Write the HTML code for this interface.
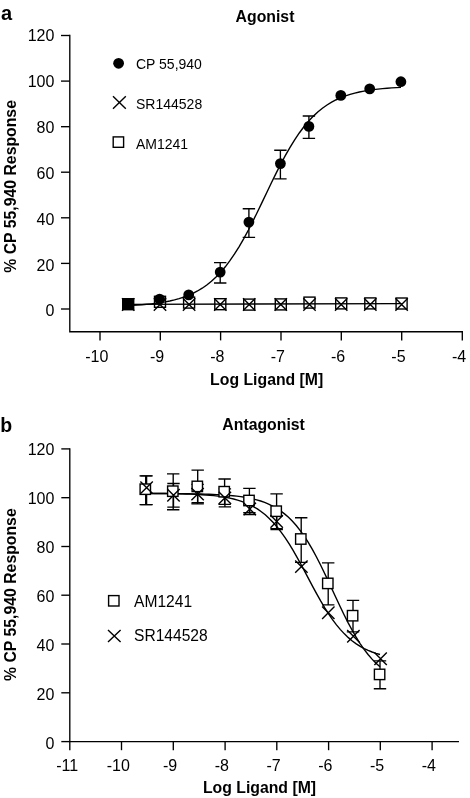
<!DOCTYPE html>
<html><head><meta charset="utf-8"><style>
html,body{margin:0;padding:0;background:#fff;}
svg{display:block;filter:grayscale(1);}
text{font-family:"Liberation Sans",sans-serif;fill:#000;}
.b{font-weight:bold;}
.ax{fill:none;stroke:#000;stroke-width:1.35;stroke-linecap:square;}
.tk{fill:none;stroke:#000;stroke-width:1.35;}
.cv{fill:none;stroke:#000;stroke-width:1.4;}
.eb{fill:none;stroke:#000;stroke-width:1.35;}
.mk{fill:none;stroke:#000;stroke-width:1.4;}
.mkf{fill:#fff;stroke:#000;stroke-width:1.4;}
</style></head><body>
<svg width="470" height="798" viewBox="0 0 470 798">
<text x="1" y="19.8" class="b" font-size="20">a</text>
<text transform="translate(265,22.2) scale(1,1)" class="b" font-size="15.8" text-anchor="middle">Agonist</text>
<path d="M69.8,35.5 V331.7 H462.3" class="ax"/>
<path d="M61,35.5 H69.8" class="tk"/>
<text x="54.4" y="41.3" class="r" font-size="16" text-anchor="end">120</text>
<path d="M61,81.1 H69.8" class="tk"/>
<text x="54.4" y="86.9" class="r" font-size="16" text-anchor="end">100</text>
<path d="M61,126.7 H69.8" class="tk"/>
<text x="54.4" y="133.4" class="r" font-size="16" text-anchor="end">80</text>
<path d="M61,172.2 H69.8" class="tk"/>
<text x="54.4" y="178.9" class="r" font-size="16" text-anchor="end">60</text>
<path d="M61,217.8 H69.8" class="tk"/>
<text x="54.4" y="224.7" class="r" font-size="16" text-anchor="end">40</text>
<path d="M61,263.4 H69.8" class="tk"/>
<text x="54.4" y="270.5" class="r" font-size="16" text-anchor="end">20</text>
<path d="M61,309.0 H69.8" class="tk"/>
<text x="54.4" y="316.0" class="r" font-size="16" text-anchor="end">0</text>
<path d="M100.0,331.7 V340.4" class="tk"/>
<text x="108.4" y="361.9" class="r" font-size="16" text-anchor="end">-10</text>
<path d="M160.3,331.7 V340.4" class="tk"/>
<text x="164.2" y="361.9" class="r" font-size="16" text-anchor="end">-9</text>
<path d="M220.6,331.7 V340.4" class="tk"/>
<text x="224.5" y="361.9" class="r" font-size="16" text-anchor="end">-8</text>
<path d="M281.0,331.7 V340.4" class="tk"/>
<text x="284.9" y="361.9" class="r" font-size="16" text-anchor="end">-7</text>
<path d="M341.3,331.7 V340.4" class="tk"/>
<text x="345.2" y="361.9" class="r" font-size="16" text-anchor="end">-6</text>
<path d="M401.7,331.7 V340.4" class="tk"/>
<text x="405.6" y="361.9" class="r" font-size="16" text-anchor="end">-5</text>
<path d="M462.3,331.7 V340.4" class="tk"/>
<text x="466.2" y="361.9" class="r" font-size="16" text-anchor="end">-4</text>
<text transform="translate(266.7,384.9) scale(1,1)" class="b" font-size="15.8" text-anchor="middle">Log Ligand [M]</text>
<text transform="translate(15.8,186.4) rotate(-90)" class="b" font-size="15.8" text-anchor="middle">% CP 55,940 Response</text>
<circle cx="118.6" cy="63.3" r="5.4" fill="#000"/>
<text x="136" y="69" class="r" font-size="14">CP 55,940</text>
<path d="M113,96.3 L125.8,108.8 M125.8,96.3 L113,108.8" class="mk"/>
<text x="136" y="108.7" class="r" font-size="14">SR144528</text>
<rect x="113.2" y="136.9" width="10.4" height="10.4" class="mk"/>
<text x="136" y="148.5" class="r" font-size="14">AM1241</text>
<path d="M128.2,304.4 L401.6,303.6" class="cv"/>
<rect x="122.7" y="298.7" width="11" height="11" class="mk"/>
<path d="M122.0,298.3 L134.4,310.7 M134.4,298.3 L122.0,310.7" class="mk"/>
<rect x="154.5" y="296.3" width="11" height="11" class="mk"/>
<path d="M153.8,298.3 L166.2,310.7 M166.2,298.3 L153.8,310.7" class="mk"/>
<rect x="183.6" y="297.1" width="11" height="11" class="mk"/>
<path d="M182.9,298.3 L195.3,310.7 M195.3,298.3 L182.9,310.7" class="mk"/>
<rect x="214.8" y="298.7" width="11" height="11" class="mk"/>
<path d="M214.1,298.3 L226.5,310.7 M226.5,298.3 L214.1,310.7" class="mk"/>
<rect x="243.7" y="299.1" width="11" height="11" class="mk"/>
<path d="M243.0,298.3 L255.4,310.7 M255.4,298.3 L243.0,310.7" class="mk"/>
<rect x="275.3" y="298.9" width="11" height="11" class="mk"/>
<path d="M274.6,298.3 L287.0,310.7 M287.0,298.3 L274.6,310.7" class="mk"/>
<rect x="304.0" y="297.1" width="11" height="11" class="mk"/>
<path d="M303.3,298.3 L315.7,310.7 M315.7,298.3 L303.3,310.7" class="mk"/>
<rect x="335.7" y="297.9" width="11" height="11" class="mk"/>
<path d="M335.0,298.3 L347.4,310.7 M347.4,298.3 L335.0,310.7" class="mk"/>
<rect x="364.8" y="297.9" width="11" height="11" class="mk"/>
<path d="M364.1,298.3 L376.5,310.7 M376.5,298.3 L364.1,310.7" class="mk"/>
<rect x="396.1" y="298.0" width="11" height="11" class="mk"/>
<path d="M395.4,298.3 L407.8,310.7 M407.8,298.3 L395.4,310.7" class="mk"/>
<path d="M128.20,305.51 L132.82,305.28 L137.45,305.01 L142.07,304.68 L146.69,304.30 L151.32,303.84 L155.94,303.30 L160.57,302.65 L165.19,301.89 L169.81,300.98 L174.44,299.91 L179.06,298.65 L183.68,297.17 L188.31,295.42 L192.93,293.38 L197.56,290.99 L202.18,288.22 L206.80,285.01 L211.43,281.30 L216.05,277.06 L220.67,272.24 L225.30,266.80 L229.92,260.71 L234.55,253.96 L239.17,246.56 L243.79,238.55 L248.42,229.98 L253.04,220.94 L257.66,211.54 L262.29,201.91 L266.91,192.19 L271.54,182.54 L276.16,173.10 L280.78,164.00 L285.41,155.37 L290.03,147.28 L294.65,139.80 L299.28,132.97 L303.90,126.79 L308.53,121.27 L313.15,116.37 L317.77,112.06 L322.40,108.29 L327.02,105.02 L331.64,102.19 L336.27,99.75 L340.89,97.67 L345.52,95.89 L350.14,94.37 L354.76,93.09 L359.39,91.99 L364.01,91.07 L368.63,90.29 L373.26,89.63 L377.88,89.07 L382.51,88.61 L387.13,88.21 L391.75,87.88 L396.38,87.60 L401.00,87.37" class="cv"/>
<path d="M220.2,262.6 V283.0 M214.0,262.6 H226.4 M214.0,283.0 H226.4" class="eb"/>
<path d="M248.9,208.7 V237.4 M242.7,208.7 H255.1 M242.7,237.4 H255.1" class="eb"/>
<path d="M280.4,150.2 V178.9 M274.2,150.2 H286.6 M274.2,178.9 H286.6" class="eb"/>
<path d="M308.9,116.0 V138.3 M302.7,116.0 H315.1 M302.7,138.3 H315.1" class="eb"/>
<rect x="122.6" y="298.3" width="11.2" height="11.2" fill="#000"/>
<circle cx="159.6" cy="299.1" r="5.4" fill="#000"/>
<circle cx="188.7" cy="294.9" r="5.4" fill="#000"/>
<circle cx="220.2" cy="272.1" r="5.4" fill="#000"/>
<circle cx="248.9" cy="222.1" r="5.4" fill="#000"/>
<circle cx="280.4" cy="163.6" r="5.4" fill="#000"/>
<circle cx="308.9" cy="126.4" r="5.4" fill="#000"/>
<circle cx="340.8" cy="95.4" r="5.4" fill="#000"/>
<circle cx="369.7" cy="88.9" r="5.4" fill="#000"/>
<circle cx="400.9" cy="81.7" r="5.4" fill="#000"/>
<text x="0.2" y="431.9" class="b" font-size="19.5">b</text>
<text transform="translate(263.6,429.9) scale(1,1)" class="b" font-size="15.8" text-anchor="middle">Antagonist</text>
<path d="M69.8,448.9 V741.6 H458.3" class="ax"/>
<path d="M61.3,448.9 H69.8" class="tk"/>
<text x="54.4" y="454.8" class="r" font-size="16" text-anchor="end">120</text>
<path d="M61.3,497.7 H69.8" class="tk"/>
<text x="54.4" y="503.8" class="r" font-size="16" text-anchor="end">100</text>
<path d="M61.3,546.5 H69.8" class="tk"/>
<text x="54.4" y="552.8" class="r" font-size="16" text-anchor="end">80</text>
<path d="M61.3,595.2 H69.8" class="tk"/>
<text x="54.4" y="602.3" class="r" font-size="16" text-anchor="end">60</text>
<path d="M61.3,644.0 H69.8" class="tk"/>
<text x="54.4" y="650.7" class="r" font-size="16" text-anchor="end">40</text>
<path d="M61.3,692.8 H69.8" class="tk"/>
<text x="54.4" y="699.7" class="r" font-size="16" text-anchor="end">20</text>
<path d="M61.3,741.6 H69.8" class="tk"/>
<text x="54.4" y="748.6" class="r" font-size="16" text-anchor="end">0</text>
<path d="M69.8,741.6 V750.2" class="tk"/>
<text x="78.2" y="770.7" class="r" font-size="16" text-anchor="end">-11</text>
<path d="M121.5,741.6 V750.2" class="tk"/>
<text x="129.9" y="770.7" class="r" font-size="16" text-anchor="end">-10</text>
<path d="M173.3,741.6 V750.2" class="tk"/>
<text x="177.2" y="770.7" class="r" font-size="16" text-anchor="end">-9</text>
<path d="M225.1,741.6 V750.2" class="tk"/>
<text x="229.0" y="770.7" class="r" font-size="16" text-anchor="end">-8</text>
<path d="M276.8,741.6 V750.2" class="tk"/>
<text x="280.7" y="770.7" class="r" font-size="16" text-anchor="end">-7</text>
<path d="M328.6,741.6 V750.2" class="tk"/>
<text x="332.5" y="770.7" class="r" font-size="16" text-anchor="end">-6</text>
<path d="M380.3,741.6 V750.2" class="tk"/>
<text x="384.2" y="770.7" class="r" font-size="16" text-anchor="end">-5</text>
<path d="M432.1,741.6 V750.2" class="tk"/>
<text x="436.0" y="770.7" class="r" font-size="16" text-anchor="end">-4</text>
<text transform="translate(259.5,792.7) scale(1,1)" class="b" font-size="15.8" text-anchor="middle">Log Ligand [M]</text>
<text transform="translate(16.1,594.65) rotate(-90)" class="b" font-size="15.8" text-anchor="middle">% CP 55,940 Response</text>
<rect x="108.6" y="595.6" width="10.4" height="10.4" class="mk"/>
<text x="134" y="606.8" class="r" font-size="15.6">AM1241</text>
<path d="M108,629.9 L120.6,642 M120.6,629.9 L108,642" class="mk"/>
<text x="134" y="641.4" class="r" font-size="15.6">SR144528</text>
<path d="M145.30,493.51 L149.28,493.51 L153.26,493.53 L157.23,493.54 L161.21,493.55 L165.19,493.57 L169.17,493.59 L173.15,493.62 L177.12,493.65 L181.10,493.69 L185.08,493.73 L189.06,493.78 L193.04,493.85 L197.01,493.92 L200.99,494.01 L204.97,494.12 L208.95,494.25 L212.93,494.40 L216.90,494.58 L220.88,494.79 L224.86,495.05 L228.84,495.36 L232.82,495.72 L236.79,496.15 L240.77,496.66 L244.75,497.27 L248.73,497.99 L252.71,498.84 L256.68,499.85 L260.66,501.04 L264.64,502.44 L268.62,504.08 L272.59,506.00 L276.57,508.24 L280.55,510.85 L284.53,513.86 L288.51,517.32 L292.48,521.28 L296.46,525.77 L300.44,530.82 L304.42,536.45 L308.40,542.67 L312.37,549.45 L316.35,556.76 L320.33,564.53 L324.31,572.69 L328.29,581.11 L332.26,589.68 L336.24,598.27 L340.22,606.74 L344.20,614.97 L348.18,622.85 L352.15,630.28 L356.13,637.19 L360.11,643.54 L364.09,649.32 L368.07,654.51 L372.04,659.13 L376.02,663.22 L380.00,666.80" class="cv"/>
<path d="M146.60,493.39 L150.56,493.41 L154.51,493.44 L158.47,493.47 L162.42,493.51 L166.38,493.56 L170.34,493.61 L174.29,493.68 L178.25,493.76 L182.20,493.85 L186.16,493.97 L190.12,494.10 L194.07,494.26 L198.03,494.45 L201.98,494.68 L205.94,494.96 L209.89,495.28 L213.85,495.67 L217.81,496.13 L221.76,496.67 L225.72,497.32 L229.67,498.09 L233.63,499.00 L237.59,500.07 L241.54,501.34 L245.50,502.82 L249.45,504.57 L253.41,506.60 L257.37,508.96 L261.32,511.69 L265.28,514.82 L269.23,518.40 L273.19,522.46 L277.15,527.01 L281.10,532.08 L285.06,537.65 L289.01,543.71 L292.97,550.22 L296.93,557.10 L300.88,564.28 L304.84,571.66 L308.79,579.13 L312.75,586.55 L316.71,593.83 L320.66,600.85 L324.62,607.53 L328.57,613.78 L332.53,619.56 L336.48,624.84 L340.44,629.61 L344.40,633.87 L348.35,637.64 L352.31,640.96 L356.26,643.86 L360.22,646.36 L364.18,648.53 L368.13,650.39 L372.09,651.98 L376.04,653.33 L380.00,654.48" class="cv"/>
<path d="M145.7,475.9 V504.6 M139.5,475.9 H151.9 M139.5,504.6 H151.9" class="eb"/>
<path d="M173.2,473.9 V509.7 M167.0,473.9 H179.4 M167.0,509.7 H179.4" class="eb"/>
<path d="M197.7,470.1 V502.7 M191.5,470.1 H203.9 M191.5,502.7 H203.9" class="eb"/>
<path d="M224.6,479 V504.4 M218.4,479 H230.8 M218.4,504.4 H230.8" class="eb"/>
<path d="M249.4,488.3 V512.7 M243.2,488.3 H255.6 M243.2,512.7 H255.6" class="eb"/>
<path d="M276.6,493.8 V528.6 M270.4,493.8 H282.8 M270.4,528.6 H282.8" class="eb"/>
<path d="M301.2,517.7 V562.4 M295.0,517.7 H307.4 M295.0,562.4 H307.4" class="eb"/>
<path d="M328.2,562.8 V604.9 M322.0,562.8 H334.4 M322.0,604.9 H334.4" class="eb"/>
<path d="M353.0,600.4 V631.9 M346.8,600.4 H359.2 M346.8,631.9 H359.2" class="eb"/>
<path d="M380.0,660.8 V688.7 M373.8,660.8 H386.2 M373.8,688.7 H386.2" class="eb"/>
<path d="M146.6,475.9 V504.6 M140.4,475.9 H152.8 M140.4,504.6 H152.8" class="eb"/>
<path d="M173.5,483.5 V507.1 M167.3,483.5 H179.7 M167.3,507.1 H179.7" class="eb"/>
<path d="M197.6,484.3 V503.9 M191.4,484.3 H203.8 M191.4,503.9 H203.8" class="eb"/>
<path d="M224.9,488.9 V506.9 M218.7,488.9 H231.1 M218.7,506.9 H231.1" class="eb"/>
<path d="M249.8,503.4 V514.6 M243.6,503.4 H256.0 M243.6,514.6 H256.0" class="eb"/>
<path d="M276.7,515.7 V529.5 M270.5,515.7 H282.9 M270.5,529.5 H282.9" class="eb"/>
<rect x="140.1" y="484.0" width="10.4" height="10.4" class="mkf"/>
<rect x="167.6" y="486.0" width="10.4" height="10.4" class="mkf"/>
<rect x="192.1" y="481.2" width="10.4" height="10.4" class="mkf"/>
<rect x="219.0" y="486.5" width="10.4" height="10.4" class="mkf"/>
<rect x="243.8" y="495.3" width="10.4" height="10.4" class="mkf"/>
<rect x="271.0" y="506.0" width="10.4" height="10.4" class="mkf"/>
<rect x="295.6" y="533.8" width="10.4" height="10.4" class="mkf"/>
<rect x="322.6" y="578.2" width="10.4" height="10.4" class="mkf"/>
<rect x="347.4" y="610.5" width="10.4" height="10.4" class="mkf"/>
<rect x="374.4" y="669.2" width="10.4" height="10.4" class="mkf"/>
<path d="M140.4,481.4 L152.8,493.8 M152.8,481.4 L140.4,493.8" class="mk"/>
<path d="M167.3,489.1 L179.7,501.5 M179.7,489.1 L167.3,501.5" class="mk"/>
<path d="M191.4,487.9 L203.8,500.3 M203.8,487.9 L191.4,500.3" class="mk"/>
<path d="M218.7,491.7 L231.1,504.1 M231.1,491.7 L218.7,504.1" class="mk"/>
<path d="M243.6,502.8 L256.0,515.2 M256.0,502.8 L243.6,515.2" class="mk"/>
<path d="M270.5,515.3 L282.9,527.7 M282.9,515.3 L270.5,527.7" class="mk"/>
<path d="M295.2,560.4 L307.6,572.8 M307.6,560.4 L295.2,572.8" class="mk"/>
<path d="M322.1,606.6 L334.5,619.0 M334.5,606.6 L322.1,619.0" class="mk"/>
<path d="M347.2,630.1 L359.6,642.5 M359.6,630.1 L347.2,642.5" class="mk"/>
<path d="M374.4,652.5 L386.8,664.9 M386.8,652.5 L374.4,664.9" class="mk"/>
</svg>
</body></html>
